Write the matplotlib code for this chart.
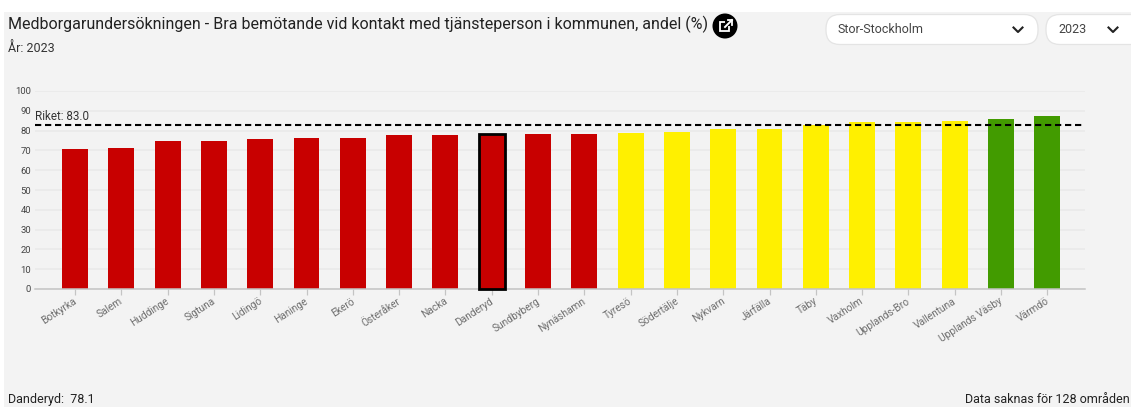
import matplotlib
matplotlib.use('Agg')
import matplotlib.pyplot as plt
from matplotlib.patches import FancyBboxPatch, Circle, Rectangle
from matplotlib.transforms import ScaledTranslation

plt.rcParams['font.family'] = ['Roboto', 'DejaVu Sans']

names = ['Botkyrka', 'Salem', 'Huddinge', 'Sigtuna', 'Lidingö', 'Haninge', 'Ekerö',
         'Österåker', 'Nacka', 'Danderyd', 'Sundbyberg', 'Nynäshamn', 'Tyresö',
         'Södertälje', 'Nykvarn', 'Järfälla', 'Täby', 'Vaxholm', 'Upplands-Bro',
         'Vallentuna', 'Upplands Väsby', 'Värmdö']
values = [70.5, 71.3, 75, 75, 76, 76.3, 76.3, 77.6, 77.6, 78.1, 78.1, 78.1, 79,
          79.5, 81, 81, 83, 84.5, 84.5, 85, 85.8, 87.5]
groups = ['r'] * 12 + ['y'] * 8 + ['g'] * 2
yticks = [0, 10, 20, 30, 40, 50, 60, 70, 80, 90, 100]
riket = 83.0
selected = 'Danderyd'

group_colors = {'r': '#c80000', 'y': '#fff000', 'g': '#429b00'}
W, H = 1131, 407
bg = '#f3f3f3'

fig = plt.figure(figsize=(W / 100, H / 100), dpi=100, facecolor='white')

# page layer, in pixels
page = fig.add_axes([0, 0, 1, 1])
page.set_xlim(0, W)
page.set_ylim(H, 0)
page.axis('off')
page.add_patch(Rectangle((4, 12), W - 4, H - 12, fc=bg, ec='none'))

page.text(8, 24, 'Medborgarundersökningen - Bra bemötande vid kontakt med tjänsteperson i kommunen, andel (%)',
          fontsize=11.5, color='#222222', va='center')
page.text(8, 48, 'År: 2023', fontsize=9, color='#333333', va='center')
page.text(8, 399.5, 'Danderyd:  78.1', fontsize=9, color='#222222', va='center')
page.text(1130, 399.5, 'Data saknas för 128 områden', fontsize=9, color='#222222', va='center', ha='right')

# link button
page.add_patch(Circle((725, 26), 12.5, fc='black', ec='none'))
page.add_patch(Rectangle((720, 22), 9, 9, fc='none', ec='white', lw=1.3))
page.add_patch(Rectangle((725, 19.5), 6, 6, fc='black', ec='none'))
page.plot([725, 732], [27, 20], color='white', lw=1.4)
page.plot([727.5, 732, 732], [20, 20, 24.5], color='white', lw=1.3)

# dropdowns
for x0, x1, label, tx, cx in [(826, 1038, 'Stor-Stockholm', 838, 1018),
                              (1046, 1145, '2023', 1058, 1113)]:
    page.add_patch(FancyBboxPatch((x0 + 14, 14.5 + 14), x1 - x0 - 28, 30 - 28,
                                  boxstyle='round,pad=14,rounding_size=14',
                                  fc='white', ec='#e4e4e4', lw=0.9))
    page.text(tx, 29.5, label, fontsize=9, color='#444444', va='center')
    page.plot([cx - 4.5, cx, cx + 4.5], [27.5, 32, 27.5], color='#222222', lw=1.5)

# chart axes, 0 at y=289 and 100 at y=91, first bar centre at x=75
x_left, x_right = 35, 1085
step = 46.3
ax = fig.add_axes([x_left / W, 1 - 289 / H, (x_right - x_left) / W, 198 / H])
ax.patch.set_alpha(0)
ax.set_xlim((x_left - 75) / step, (x_right - 75) / step)
ax.set_ylim(0, 100)
for s in ['top', 'right', 'left']:
    ax.spines[s].set_visible(False)
ax.spines['bottom'].set_color('#c4c4c4')
ax.spines['bottom'].set_linewidth(1.1)
ax.grid(axis='y', color='#e9e9e9', lw=1.1)
ax.set_axisbelow(True)

colors = [group_colors[g] for g in groups]
bars = ax.bar(range(len(names)), values, width=0.56, color=colors, zorder=2)
sel = names.index(selected)
bars[sel].set_edgecolor('black')
bars[sel].set_linewidth(2)
bars[sel].set_clip_on(False)
bars[sel].set_zorder(3)

ax.axhline(riket, color='black', lw=1.5, dashes=(3, 1.8), zorder=4, clip_on=False)
ax.text(0, riket + 1, 'Riket: %.1f' % riket, fontsize=8.4, color='#333333',
        va='bottom', ha='left', transform=ax.get_yaxis_transform())

ax.set_yticks(yticks)
ax.tick_params(axis='y', length=0, labelsize=6.8, labelcolor='#444444', pad=3)
ax.set_xticks(range(len(names)))
ax.set_xticklabels(names, rotation=33, ha='right', rotation_mode='anchor',
                   fontsize=7.3, color='#6e6e6e')
ax.tick_params(axis='x', length=4, width=0.9, color='#c4c4c4', pad=1)
# labels sit a little left of the ticks
shift = ScaledTranslation(-2 / 100, 0, fig.dpi_scale_trans)
for lab in ax.get_xticklabels():
    lab.set_transform(lab.get_transform() + shift)

fig.savefig('out.png', dpi=100)
